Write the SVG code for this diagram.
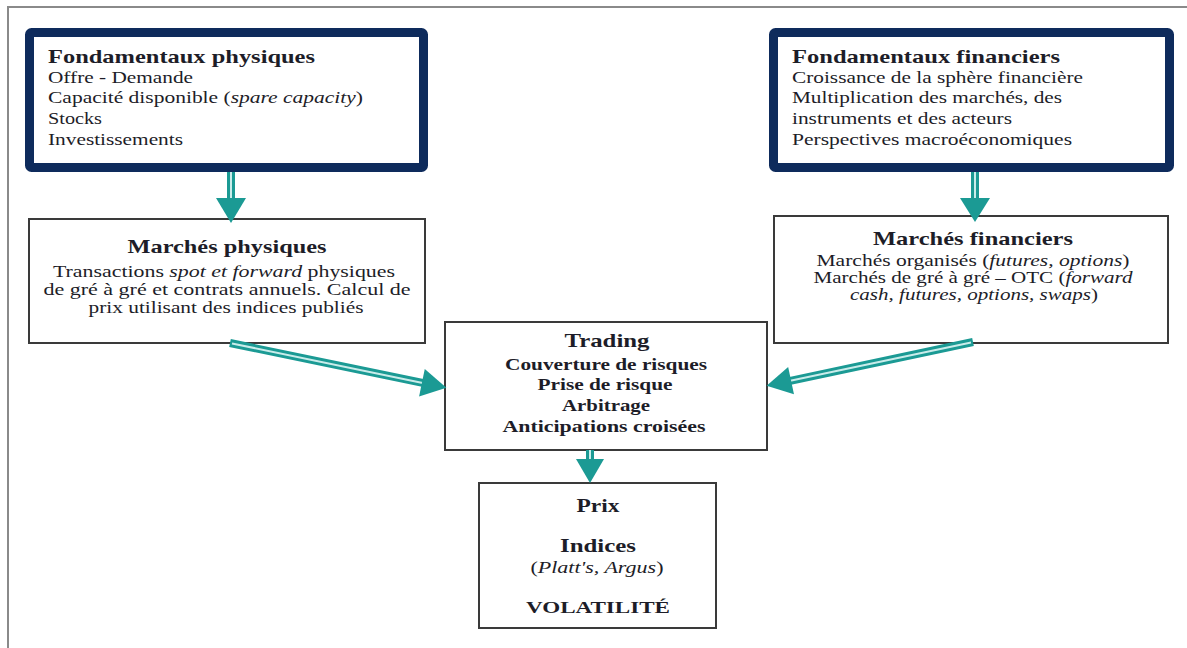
<svg xmlns="http://www.w3.org/2000/svg" width="1187" height="648" viewBox="0 0 1187 648">
<style>
.t{font-family:"Liberation Serif","Times New Roman",serif;fill:#1d1d28;font-size:16px}
.h{font-weight:bold;font-size:19.5px}
.b{font-weight:bold}
.i{font-style:italic}
.m{text-anchor:middle}
.navy{fill:#fff;stroke:#0e2b5c;stroke-width:9}
.box{fill:#fff;stroke:#3a3a3a;stroke-width:2}
.shaft{stroke:#1b9a94;stroke-width:8;fill:none}
.core{stroke:#c9ecea;stroke-width:2;fill:none}
.head{fill:#1b9a94}
</style>
<rect width="1187" height="648" fill="#fff"/>
<g id="frame" stroke="#8a8a8a" stroke-width="2" fill="none">
<path d="M8 648 V7 H1187"/>
</g>
<g id="fond-phys">
<rect class="navy" x="29.5" y="32.5" width="394" height="135" rx="2"/>
<text class="t h" x="48" y="63" textLength="267" lengthAdjust="spacingAndGlyphs">Fondamentaux physiques</text>
<text class="t" x="48" y="83" textLength="145" lengthAdjust="spacingAndGlyphs">Offre - Demande</text>
<text class="t" x="48" y="103" textLength="315" lengthAdjust="spacingAndGlyphs">Capacité disponible (<tspan class="i">spare capacity</tspan>)</text>
<text class="t" x="48" y="124" textLength="54" lengthAdjust="spacingAndGlyphs">Stocks</text>
<text class="t" x="48" y="145" textLength="135" lengthAdjust="spacingAndGlyphs">Investissements</text>
</g>
<g id="fond-fin">
<rect class="navy" x="773.5" y="32.5" width="396" height="135" rx="2"/>
<text class="t h" x="792" y="63" textLength="268" lengthAdjust="spacingAndGlyphs">Fondamentaux financiers</text>
<text class="t" x="792" y="83" textLength="291" lengthAdjust="spacingAndGlyphs">Croissance de la sphère financière</text>
<text class="t" x="792" y="103" textLength="270" lengthAdjust="spacingAndGlyphs">Multiplication des marchés, des</text>
<text class="t" x="792" y="124" textLength="220" lengthAdjust="spacingAndGlyphs">instruments et des acteurs</text>
<text class="t" x="792" y="145" textLength="280" lengthAdjust="spacingAndGlyphs">Perspectives macroéconomiques</text>
</g>
<g id="marches-phys">
<rect class="box" x="29" y="219" width="396" height="124"/>
<text class="t h m" x="227" y="253" textLength="199" lengthAdjust="spacingAndGlyphs">Marchés physiques</text>
<text class="t m" x="224" y="277" textLength="342" lengthAdjust="spacingAndGlyphs">Transactions <tspan class="i">spot et forward</tspan> physiques</text>
<text class="t m" x="227" y="295" textLength="367" lengthAdjust="spacingAndGlyphs">de gré à gré et  contrats annuels. Calcul de</text>
<text class="t m" x="226" y="313" textLength="275" lengthAdjust="spacingAndGlyphs">prix utilisant des indices publiés</text>
</g>
<g id="marches-fin">
<rect class="box" x="774" y="216" width="394" height="127"/>
<text class="t h m" x="973" y="245" textLength="200" lengthAdjust="spacingAndGlyphs">Marchés financiers</text>
<text class="t m" x="973" y="266" textLength="313" lengthAdjust="spacingAndGlyphs">Marchés organisés (<tspan class="i">futures, options</tspan>)</text>
<text class="t m" x="973" y="283" textLength="319" lengthAdjust="spacingAndGlyphs">Marchés de gré à gré – OTC (<tspan class="i">forward</tspan></text>
<text class="t m i" x="974" y="300" textLength="248" lengthAdjust="spacingAndGlyphs">cash, futures, options, swaps<tspan style="font-style:normal">)</tspan></text>
</g>
<g id="trading">
<rect class="box" x="445" y="322" width="322" height="128"/>
<text class="t h m" x="607" y="347" textLength="85" lengthAdjust="spacingAndGlyphs">Trading</text>
<text class="t b m" x="606" y="370" textLength="202" lengthAdjust="spacingAndGlyphs">Couverture de risques</text>
<text class="t b m" x="605" y="390" textLength="135" lengthAdjust="spacingAndGlyphs">Prise de risque</text>
<text class="t b m" x="606" y="411" textLength="88" lengthAdjust="spacingAndGlyphs">Arbitrage</text>
<text class="t b m" x="604" y="432" textLength="203" lengthAdjust="spacingAndGlyphs">Anticipations croisées</text>
</g>
<g id="prix">
<rect class="box" x="479" y="483" width="237" height="145"/>
<text class="t h m" x="598" y="512" textLength="43" lengthAdjust="spacingAndGlyphs">Prix</text>
<text class="t h m" x="598" y="552" textLength="76" lengthAdjust="spacingAndGlyphs">Indices</text>
<text class="t m" x="597" y="573" textLength="133" lengthAdjust="spacingAndGlyphs">(<tspan class="i">Platt's, Argus</tspan>)</text>
<text class="t b m" x="598" y="613" textLength="144" lengthAdjust="spacingAndGlyphs">VOLATILITÉ</text>
</g>
<g id="connectors">
<g transform="translate(231,172) rotate(90)">
<line class="shaft" x1="0" y1="0" x2="27" y2="0"/><line class="core" x1="0" y1="0" x2="27" y2="0"/>
<polygon class="head" points="26,-15 51,0 26,15"/>
</g>
<g transform="translate(975,172) rotate(90)">
<line class="shaft" x1="0" y1="0" x2="27" y2="0"/><line class="core" x1="0" y1="0" x2="27" y2="0"/>
<polygon class="head" points="26,-15 50,0 26,15"/>
</g>
<g transform="translate(230,343) rotate(11.7)">
<line class="shaft" x1="0" y1="0" x2="198" y2="0"/><line class="core" x1="2" y1="0" x2="198" y2="0"/>
<polygon class="head" points="196,-14 221,0 196,14"/>
</g>
<g transform="translate(973,342) rotate(168)">
<line class="shaft" x1="0" y1="0" x2="188" y2="0"/><line class="core" x1="2" y1="0" x2="188" y2="0"/>
<polygon class="head" points="186,-14 211,0 186,14"/>
</g>
<g transform="translate(590,450) rotate(90)">
<line class="shaft" x1="0" y1="0" x2="11" y2="0"/><line class="core" x1="0" y1="0" x2="11" y2="0"/>
<polygon class="head" points="9,-14 33,0 9,14"/>
</g>
</g>
</svg>
